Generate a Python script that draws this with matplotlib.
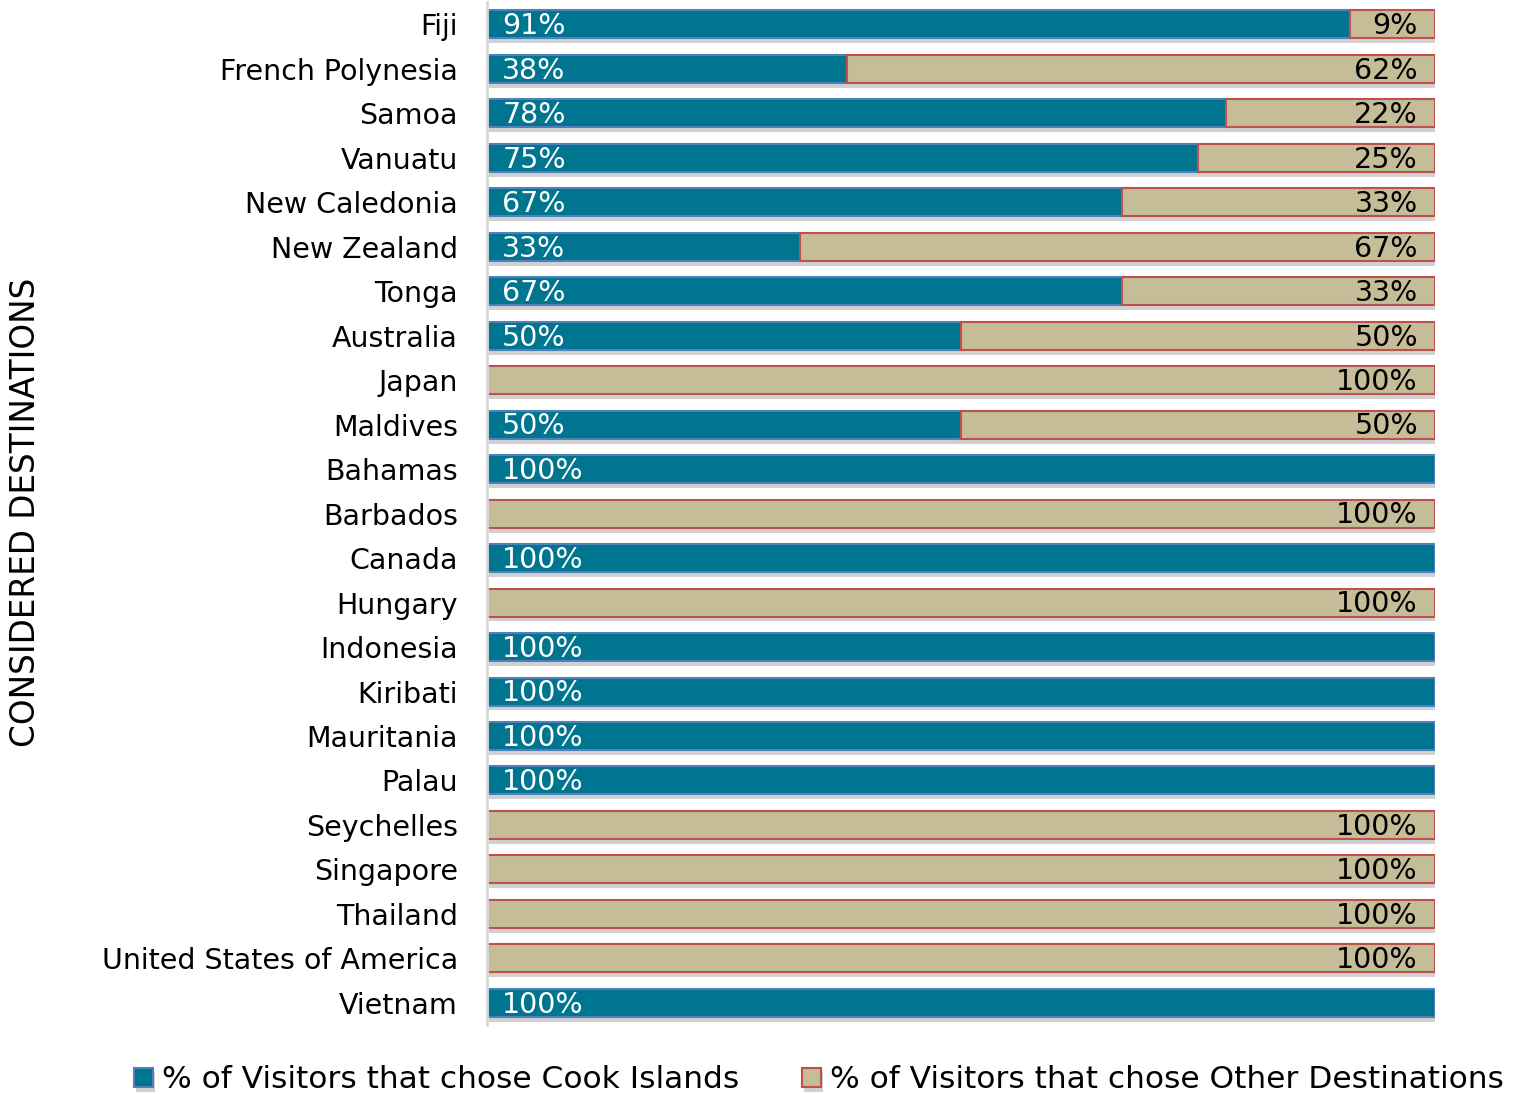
import matplotlib
matplotlib.use("Agg")
import matplotlib.pyplot as plt
import matplotlib.patheffects as pe

destinations = ["Fiji", "French Polynesia", "Samoa", "Vanuatu", "New Caledonia",
                "New Zealand", "Tonga", "Australia", "Japan", "Maldives", "Bahamas",
                "Barbados", "Canada", "Hungary", "Indonesia", "Kiribati", "Mauritania",
                "Palau", "Seychelles", "Singapore", "Thailand",
                "United States of America", "Vietnam"]
cook_islands = [91, 38, 78, 75, 67, 33, 67, 50, 0, 50, 100, 0, 100, 0, 100, 100,
                100, 100, 0, 0, 0, 0, 100]
other_destinations = [9, 62, 22, 25, 33, 67, 33, 50, 100, 50, 0, 100, 0, 100, 0, 0,
                      0, 0, 100, 100, 100, 100, 0]

blue = "#00758F"
blue_edge = "#4F81BD"
tan = "#C4BD97"
tan_edge = "#C0504D"
font = "DejaVu Sans"
fs = 20.5

fig = plt.figure(figsize=(15.24, 10.94), dpi=100)
ax = fig.add_axes([0.3196, 0.063, 0.622, 0.935])

ypos = list(range(len(destinations)))
shadow = [pe.SimplePatchShadow(offset=(1.5, -3.5), shadow_rgbFace="#9a9a9a", alpha=0.45),
          pe.Normal()]

b1 = ax.barh(ypos, cook_islands, height=0.63, color=blue, edgecolor=blue_edge,
             linewidth=1.5, label="% of Visitors that chose Cook Islands")
b2 = ax.barh(ypos, other_destinations, left=cook_islands, height=0.63, color=tan,
             edgecolor=tan_edge, linewidth=1.5,
             label="% of Visitors that chose Other Destinations")
for bars, vals in ((b1, cook_islands), (b2, other_destinations)):
    for rect, v in zip(bars, vals):
        if v == 0:
            rect.set_visible(False)
        else:
            rect.set_path_effects(shadow)

for y, c, o in zip(ypos, cook_islands, other_destinations):
    if c > 0:
        ax.text(1.6, y + 0.04, f"{c}%", color="white", fontsize=fs, family=font,
                va="center", ha="left")
    if o > 0:
        ax.text(98.2, y + 0.04, f"{o}%", color="black", fontsize=fs, family=font,
                va="center", ha="right")

ax.set_xlim(0, 100)
ax.set_ylim(len(destinations) - 0.5, -0.5)
ax.set_yticks(ypos)
ax.set_yticklabels(destinations, fontsize=fs, family=font)
ax.tick_params(axis="y", length=0, pad=21)
ax.set_xticks([])
for s in ("top", "right", "bottom"):
    ax.spines[s].set_visible(False)
ax.spines["left"].set_color("#d9d9d9")
ax.spines["left"].set_linewidth(2)

fig.text(0.0165, 0.532, "CONSIDERED DESTINATIONS", rotation=90, fontsize=23.5,
         family=font, va="center", ha="center")

fig.legend(handles=[b1, b2], loc="center", bbox_to_anchor=(0.5374, 0.0128), ncol=2,
           frameon=False, prop={"family": font, "size": 22.5},
           handlelength=0.6, handleheight=0.6, handletextpad=0.3, columnspacing=2.0)

fig.savefig("out.png", dpi=100)
